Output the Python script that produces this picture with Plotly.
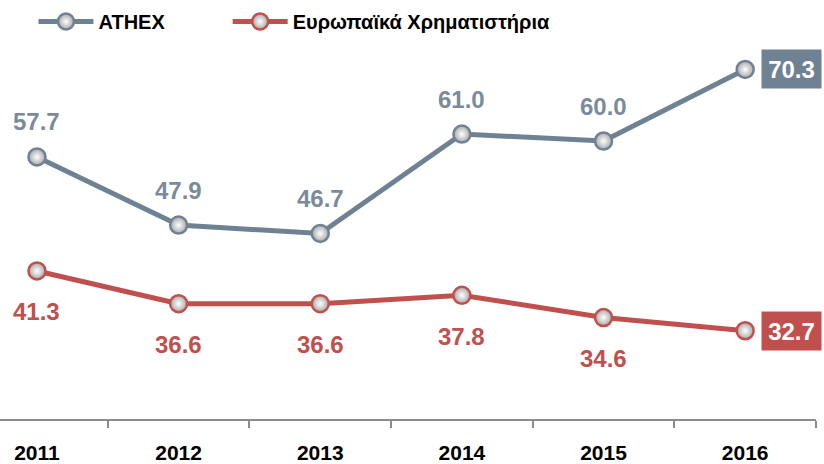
import plotly.graph_objects as go

years = ["2011", "2012", "2013", "2014", "2015", "2016"]
athex = [57.7, 47.9, 46.7, 61.0, 60.0, 70.3]
europe = [41.3, 36.6, 36.6, 37.8, 34.6, 32.7]
names = ["ATHEX", "Ευρωπαϊκά Χρηματιστήρια"]

GRAY = "#6F8294"
GRAY_TXT = "#7A8B9C"
RED = "#C0504D"
FONT = "Liberation Sans, Arial, sans-serif"

fig = go.Figure()
for vals, name, col, lg in [(athex, names[0], GRAY, "legend"), (europe, names[1], RED, "legend2")]:
    fig.add_trace(go.Scatter(
        x=list(range(len(years))), y=vals, name=f"<b>{name}</b>", mode="lines+markers",
        line=dict(color=col, width=5), legend=lg,
        marker=dict(size=17, color="#A8A8A8", line=dict(color=col, width=2.5),
                    gradient=dict(type="radial", color="#FFFFFF")),
    ))

ann = []
for series, col, txtcol, shift in [(athex, GRAY, GRAY_TXT, 35), (europe, RED, RED, -41)]:
    for i, v in enumerate(series):
        if i == len(series) - 1:
            ann.append(dict(x=i, y=v, xref="x", yref="y", text=f"<b>{v:.1f}</b>", showarrow=False,
                            xshift=46, font=dict(family=FONT, size=24, color="white"),
                            bgcolor=col, borderpad=6, width=47, height=26))
        else:
            ann.append(dict(x=i, y=v, xref="x", yref="y", text=f"<b>{v:.1f}</b>", showarrow=False,
                            yshift=shift, font=dict(family=FONT, size=24, color=txtcol)))

legend_common = dict(orientation="h", y=1.0, xanchor="left", yanchor="top",
                     font=dict(family=FONT, size=20, color="black"),
                     itemwidth=55, bgcolor="rgba(0,0,0,0)")

fig.update_layout(
    width=824, height=464,
    margin=dict(l=0, r=8, t=2, b=40),
    paper_bgcolor="white", plot_bgcolor="white",
    font=dict(family=FONT, color="black"),
    showlegend=True,
    legend=dict(x=0.041, **legend_common),
    legend2=dict(x=0.279, **legend_common),
    xaxis=dict(range=[-0.261, 5.5], showline=True, linecolor="#8C8C8C", linewidth=1.5,
               showgrid=False, zeroline=False,
               tickmode="array", tickvals=[0.5, 1.5, 2.5, 3.5, 4.5, 5.5],
               ticktext=[""] * 6, ticks="outside", ticklen=7, tickcolor="#8C8C8C", tickwidth=1.5),
    xaxis2=dict(range=[-0.261, 5.5], overlaying="x", side="bottom", anchor="y",
                showline=False, showgrid=False, zeroline=False,
                tickmode="array", tickvals=list(range(len(years))),
                ticktext=[f"<b>{y}</b>" for y in years], ticks="",
                tickfont=dict(family=FONT, size=21, color="black"), ticklabelstandoff=19),
    yaxis=dict(range=[20, 80], visible=False, showgrid=False, zeroline=False),
    annotations=ann,
)
# invisible helper trace to activate the label axis
fig.add_trace(go.Scatter(x=[0], y=[50], xaxis="x2", mode="markers", marker=dict(opacity=0),
                         showlegend=False, hoverinfo="skip"))

fig.write_html("out.html", config={"displayModeBar": False},
               post_script="document.body.style.margin='0';")
